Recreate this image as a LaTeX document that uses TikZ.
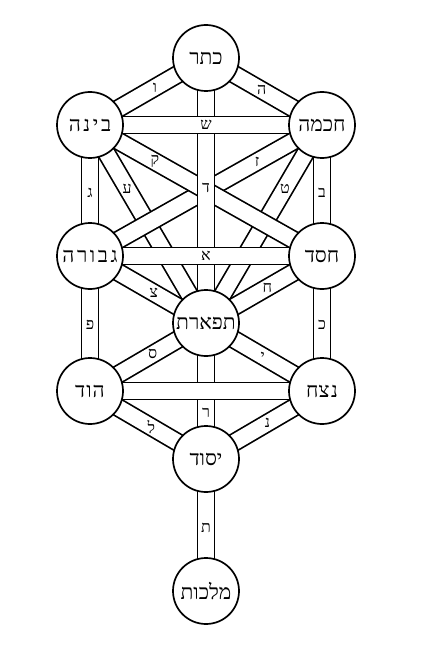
\documentclass[tikz,border=0pt]{standalone}
\usepackage{fontspec}
\TeXXeTstate=1
\newfontfamily\heb[Script=Hebrew]{Liberation Serif}
\pgfdeclarelayer{bg}
\pgfsetlayers{bg,main}
\newcommand{\gp}{\hspace{2.6pt}}
\tikzset{
 sef/.style={circle, draw, line width=1.7pt, fill=white, minimum size=66pt, inner sep=0pt, font=\heb\fontsize{21}{23}\selectfont},
 band/.style={draw=black, line width=1.7pt, double=white, double distance=15.5pt},
 lab/.style={font=\heb\fontsize{16}{18}\selectfont, inner sep=0pt}
}
\begin{document}
\begin{tikzpicture}[x=1pt,y=-1pt]
\useasboundingbox (0,0) rectangle (422,655);
\node[sef] (K)  at (206,58)  {\beginR כתר\endR};
\node[sef] (Ch) at (322,125) {\beginR חכמה\endR};
\node[sef] (Bi) at (90,125)  {\beginR ב\gp י\gp נ\gp ה\endR};
\node[sef] (Ge) at (90,256)  {\beginR ג\gp ב\gp ו\gp ר\gp ה\endR};
\node[sef] (Hs) at (322,256) {\beginR חסד\endR};
\node[sef] (Ti) at (206,323) {\beginR תפארת\endR};
\node[sef] (Ho) at (90,391)  {\beginR ה\hspace{1pt}ו\hspace{1pt}ד\endR};
\node[sef] (Ne) at (322,391) {\beginR נ\hspace{1.5pt}צח\endR};
\node[sef] (Ye) at (206,459) {\beginR יסוד\endR};
\node[sef] (Ma) at (206,591) {\beginR מלכות\endR};
\begin{pgfonlayer}{bg}
\draw[band] (Bi.center) -- node[lab,pos=.32]{ע} (Ti.center);
\draw[band] (Ch.center) -- node[lab,pos=.32]{ט} (Ti.center);
\draw[band] (Ch.center) -- node[lab,pos=.28]{ז} (Ge.center);
\draw[band] (Bi.center) -- node[lab,pos=.28]{ק} (Hs.center);
\draw[band] (K.center) -- node[lab,pos=.49]{ד} (Ti.center);
\draw[band] (Bi.center) -- node[lab,pos=.5]{ש} (Ch.center);
\draw[band] (Ge.center) -- node[lab,pos=.5]{א} (Hs.center);
\draw[band] (K.center) -- node[lab,pos=.44]{ו} (Bi.center);
\draw[band] (K.center) -- node[lab,pos=.48]{ה} (Ch.center);
\draw[band] (Bi.center) -- node[lab,pos=.52]{ג} (Ge.center);
\draw[band] (Ch.center) -- node[lab,pos=.52]{ב} (Hs.center);
\draw[band] (Ge.center) -- node[lab,pos=.55]{צ} (Ti.center);
\draw[band] (Hs.center) -- node[lab,pos=.47]{ח} (Ti.center);
\draw[band] (Ge.center) -- node[lab,pos=.51]{פ} (Ho.center);
\draw[band] (Hs.center) -- node[lab,pos=.51]{כ} (Ne.center);
\draw[band] (Ho.center) -- node[lab,pos=.54]{ס} (Ti.center);
\draw[band] (Ne.center) -- node[lab,pos=.51]{י} (Ti.center);
\draw[band] (Ti.center) -- node[lab,pos=.66]{ר} (Ye.center);
\draw[band] (Ho.center) -- (Ne.center);
\draw[band] (Ho.center) -- node[lab,pos=.53]{ל} (Ye.center);
\draw[band] (Ne.center) -- node[lab,pos=.47]{נ} (Ye.center);
\draw[band] (Ye.center) -- node[lab,pos=.52]{ת} (Ma.center);
\end{pgfonlayer}
\end{tikzpicture}
\end{document}
